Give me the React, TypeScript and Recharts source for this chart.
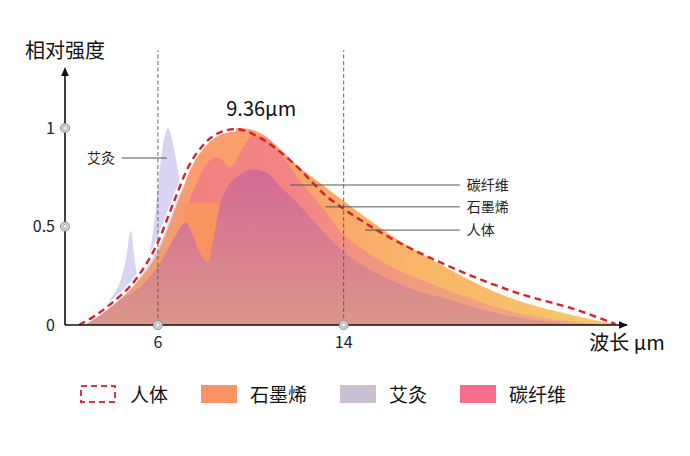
import React from 'react';
import { ComposedChart, Area, Line, XAxis, YAxis, ReferenceLine, ReferenceDot } from 'recharts';

// ---- data (wavelength in μm, relative intensity) ----
const humanX = [2.6, 3.2, 4.0, 5.1, 6.0, 6.7, 7.3, 8.0, 8.7, 9.36, 10.4, 11.85, 13.3, 14, 15.6, 18.5, 21.3, 24.2, 25.7];
const humanY = [0, 0.04, 0.11, 0.24, 0.42, 0.63, 0.8, 0.92, 0.98, 0.995, 0.95, 0.82, 0.65, 0.59, 0.47, 0.3, 0.17, 0.07, 0.005];

const grapheneX = [2.6, 3.4, 4.4, 5.1, 6.0, 6.5, 7.0, 7.5, 8.0, 8.7, 9.5, 10.4, 11.3, 12.0, 13.0, 14, 16, 18.2, 21, 23.9, 25.9];
const grapheneY = [0, 0.07, 0.16, 0.22, 0.37, 0.51, 0.67, 0.815, 0.905, 0.97, 1.0, 0.975, 0.89, 0.81, 0.72, 0.63, 0.46, 0.305, 0.145, 0.048, 0];

const carbonX = [7.1, 7.3, 7.6, 8.0, 8.5, 8.7, 9.1, 9.6, 10.1, 10.6, 11.3, 12.0, 13.0, 14, 15, 16, 18.2, 21, 24, 25.9];
const carbonY = [0, 0.6, 0.7, 0.8, 0.85, 0.845, 0.8, 0.89, 0.965, 0.955, 0.87, 0.75, 0.61, 0.46, 0.37, 0.3, 0.19, 0.076, 0.015, 0];

const grapheneGapX = [7.02, 7.14, 8.9, 9.1];
const grapheneGapY = [0, 0.62, 0.62, 0];

const carbonInnerX = [2.6, 3.5, 4.4, 5.2, 6.0, 6.6, 7.0, 7.2, 7.5, 7.8, 8.15, 8.4, 8.65, 8.95, 9.4, 10.1, 10.6, 11.3, 12.0, 13.0, 14, 15.3, 17, 18.5, 21, 23, 25.5];
const carbonInnerY = [0, 0.06, 0.13, 0.19, 0.3, 0.42, 0.5, 0.52, 0.46, 0.37, 0.32, 0.44, 0.6, 0.69, 0.75, 0.79, 0.78, 0.7, 0.62, 0.49, 0.37, 0.27, 0.18, 0.13, 0.05, 0.015, 0];

const moxaX = [2.6, 3.5, 4.0, 4.4, 4.62, 4.84, 4.97, 5.13, 5.4, 5.6, 5.85, 6.0, 6.2, 6.44, 6.65, 6.86, 7.1, 7.4, 7.8, 8.3];
const moxaY = [0, 0.07, 0.14, 0.23, 0.33, 0.48, 0.36, 0.25, 0.28, 0.34, 0.53, 0.7, 0.9, 1.0, 0.92, 0.79, 0.62, 0.45, 0.25, 0];

const xTicks = [6, 14];
const yTicks = [0, 0.5, 1];
const peakLabel = '9.36μm';
const peakPos = { x: 10.45, y: 1.09 };

const leaderNames = ['碳纤维', '石墨烯', '人体'];
const leaderX1 = [11.7, 13.2, 14.92];
const leaderX2 = [19.0, 19.0, 19.0];
const leaderY = [0.711, 0.6, 0.482];
const moxaLeader = { name: '艾灸', x1: 4.45, x2: 6.39, y: 0.848 };

const legendNames = ['人体', '石墨烯', '艾灸', '碳纤维'];
const legendColors = ['#d8353c', '#fc9364', '#cbbfd3', '#f86c8c'];

const FONT = '"Noto Sans CJK SC", "Noto Sans", sans-serif';

const pts = (xs: number[], ys: number[]) => xs.map((x, i) => ({ x, y: ys[i] }));
const humanPts = pts(humanX, humanY);
const graphenePts = pts(grapheneX, grapheneY);
const carbonPts = pts(carbonX, carbonY);
const gapPts = pts(grapheneGapX, grapheneGapY);
const innerPts = pts(carbonInnerX, carbonInnerY);
const moxaPts = pts(moxaX, moxaY);

const W = 690;
const H = 456;
const MARGIN = { top: 69, right: 63, bottom: 101, left: 5 };

const Ring = (p: any) => (
  <g>
    <circle cx={p.cx} cy={p.cy} r={4.5} fill="#d9d9d9" stroke="#8c8c8c" strokeWidth={1} />
    <circle cx={p.cx} cy={p.cy} r={2.2} fill="#f4f4f4" stroke="#a0a0a0" strokeWidth={0.8} />
  </g>
);

const UpArrow = (p: any) => (
  <g>
    <path d={`M${p.cx} ${p.cy - 2} L${p.cx + 3.8} ${p.cy + 7} L${p.cx - 3.8} ${p.cy + 7} Z`} fill="#111" />
    <text x={p.cx} y={p.cy - 16} textAnchor="middle" dominantBaseline="middle" fontSize={20} fill="#111" fontFamily={FONT}>相对强度</text>
  </g>
);

const RightArrow = (p: any) => (
  <g>
    <path d={`M${p.cx + 1} ${p.cy} L${p.cx - 8} ${p.cy - 3.8} L${p.cx - 8} ${p.cy + 3.8} Z`} fill="#111" />
    <text x={p.cx} y={p.cy + 20} textAnchor="middle" dominantBaseline="middle" fontSize={20} fill="#111" fontFamily={FONT}>波长 μm</text>
  </g>
);

const PeakText = (p: any) => (
  <text x={p.cx} y={p.cy} textAnchor="middle" dominantBaseline="middle" fontSize={20} fill="#111" fontFamily={FONT}>{peakLabel}</text>
);

const LegendIcon = ({ i }: { i: number }) => (
  <svg width={36} height={18} style={{ display: 'block' }}>
    {i === 0 ? (
      <rect x={1} y={1} width={34} height={16} fill="none" stroke={legendColors[0]} strokeWidth={2} strokeDasharray="6 4" />
    ) : (
      <rect x={0} y={0} width={36} height={18} fill={legendColors[i]} />
    )}
  </svg>
);

export default function App() {
  return (
    <div style={{ position: 'absolute', left: 0, top: 0, width: W, height: H, background: '#fff' }}>
      <ComposedChart width={W} height={H} margin={MARGIN}>
        <defs>
          <linearGradient id="gGrad" gradientUnits="userSpaceOnUse" x1={65} y1={0} x2={627} y2={0}>
            <stop offset="0%" stopColor="#eea36f" />
            <stop offset="24%" stopColor="#f9935f" />
            <stop offset="42%" stopColor="#f99a5d" />
            <stop offset="63%" stopColor="#f8ae58" />
            <stop offset="100%" stopColor="#f7c35b" />
          </linearGradient>
          <linearGradient id="sGrad" gradientUnits="userSpaceOnUse" x1={170} y1={0} x2={627} y2={0}>
            <stop offset="0%" stopColor="#f4807f" />
            <stop offset="28%" stopColor="#f38586" />
            <stop offset="50%" stopColor="#f29a7e" />
            <stop offset="100%" stopColor="#f0ae86" />
          </linearGradient>
          <linearGradient id="mGrad" gradientUnits="userSpaceOnUse" x1={0} y1={165} x2={0} y2={325}>
            <stop offset="0%" stopColor="#d36a96" />
            <stop offset="50%" stopColor="#d87e8f" />
            <stop offset="100%" stopColor="#dc968a" />
          </linearGradient>
        </defs>
        <XAxis
          type="number"
          dataKey="x"
          domain={[2, 26.2]}
          allowDataOverflow
          ticks={xTicks}
          tickLine={false}
          tickMargin={6}
          axisLine={{ stroke: '#111', strokeWidth: 1.6 }}
          tick={{ fontSize: 16, fill: '#222', fontFamily: FONT }}
          height={30}
        />
        <YAxis
          type="number"
          dataKey="y"
          domain={[0, 1.3]}
          allowDataOverflow
          ticks={yTicks}
          tickLine={false}
          tickMargin={4}
          axisLine={{ stroke: '#111', strokeWidth: 1.6 }}
          tick={{ fontSize: 16, fill: '#222', fontFamily: FONT }}
          width={60}
        />
        <Area data={moxaPts} dataKey="y" type="monotone" stroke="none" fill="#d9d4f2" fillOpacity={1} isAnimationActive={false} />
        <Area data={graphenePts} dataKey="y" type="monotone" stroke="none" fill="url(#gGrad)" fillOpacity={0.9} isAnimationActive={false} />
        <Area data={carbonPts} dataKey="y" type="monotone" stroke="none" fill="url(#sGrad)" fillOpacity={1} isAnimationActive={false} />
        <Area data={gapPts} dataKey="y" type="linear" stroke="none" fill="url(#gGrad)" fillOpacity={1} isAnimationActive={false} />
        <Area data={innerPts} dataKey="y" type="monotone" stroke="none" fill="url(#mGrad)" fillOpacity={1} isAnimationActive={false} />
        <Line data={humanPts.slice(0, 10)} dataKey="y" type="monotone" stroke="#ffffff" strokeWidth={5} dot={false} isAnimationActive={false} />
        <Line data={humanPts} dataKey="y" type="monotone" stroke="#d3232c" strokeWidth={2.4} strokeDasharray="7 4.5" dot={false} isAnimationActive={false} />

        {xTicks.map((t) => (
          <ReferenceLine key={`v${t}`} segment={[{ x: t, y: 0 }, { x: t, y: 1.395 }]} stroke="#555" strokeWidth={0.9} strokeDasharray="4 2.5" ifOverflow="visible" />
        ))}

        {leaderNames.map((n, i) => (
          <ReferenceLine
            key={n}
            segment={[{ x: leaderX1[i], y: leaderY[i] }, { x: leaderX2[i], y: leaderY[i] }]}
            stroke="#555"
            strokeWidth={1}
            ifOverflow="visible"
            label={{ value: n, position: 'right', offset: 7, fill: '#222', fontSize: 14, fontFamily: FONT }}
          />
        ))}
        <ReferenceLine
          segment={[{ x: moxaLeader.x1, y: moxaLeader.y }, { x: moxaLeader.x2, y: moxaLeader.y }]}
          stroke="#555"
          strokeWidth={1}
          ifOverflow="visible"
          label={{ value: moxaLeader.name, position: 'left', offset: 7, fill: '#222', fontSize: 14, fontFamily: FONT }}
        />

        {yTicks.filter((t) => t > 0).map((t) => (
          <ReferenceDot key={`yr${t}`} x={2} y={t} r={4} shape={Ring} ifOverflow="visible" />
        ))}
        {xTicks.map((t) => (
          <ReferenceDot key={`xr${t}`} x={t} y={0} r={4} shape={Ring} ifOverflow="visible" />
        ))}
        <ReferenceDot x={2} y={1.3} r={1} shape={UpArrow} ifOverflow="visible" />
        <ReferenceDot x={26.2} y={0} r={1} shape={RightArrow} ifOverflow="visible" />
        <ReferenceDot x={peakPos.x} y={peakPos.y} r={1} shape={PeakText} ifOverflow="visible" />
      </ComposedChart>
      <div style={{ position: 'absolute', left: 80, top: 385, display: 'flex', alignItems: 'center', gap: 33, fontFamily: FONT, fontSize: 19, color: '#111', lineHeight: '18px' }}>
        {legendNames.map((n, i) => (
          <div key={n} style={{ display: 'flex', alignItems: 'center' }}>
            <LegendIcon i={i} />
            <span style={{ marginLeft: 14 - (i > 0 ? 1 : 0) }}>{n}</span>
          </div>
        ))}
      </div>
    </div>
  );
}
